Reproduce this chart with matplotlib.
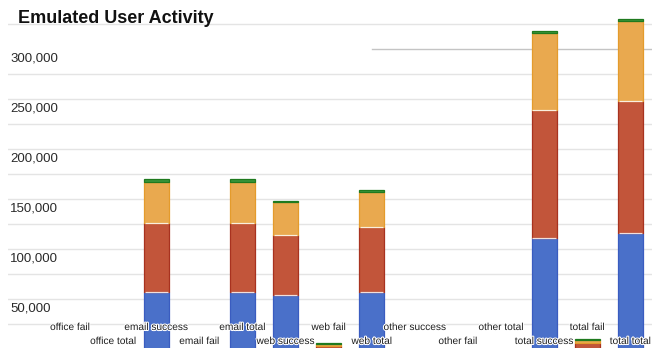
import matplotlib
matplotlib.use("Agg")
import matplotlib.pyplot as plt
import matplotlib.patheffects as pe
import numpy as np

plt.rcParams['font.family'] = ['Liberation Sans', 'DejaVu Sans']

labels = ['office fail', 'office total', 'email success', 'email fail', 'email total',
          'web success', 'web fail', 'web total', 'other success', 'other fail',
          'other total', 'total success', 'total fail', 'total total']
blue = [0, 0, 57000, 0, 57000, 54000, 0, 57000, 0, 0, 0, 111000, 0, 116000]
red = [0, 0, 69000, 0, 69000, 60000, 3500, 65000, 0, 0, 0, 128000, 6000, 132000]
orange = [0, 0, 41000, 0, 41000, 33000, 2000, 35000, 0, 0, 0, 77000, 3000, 80000]
green = [0, 0, 3000, 0, 3000, 1000, 700, 2000, 0, 0, 0, 2000, 1000, 2000]
ytick_vals = [50000, 100000, 150000, 200000, 250000, 300000]
ytick_labels = ['50,000', '100,000', '150,000', '200,000', '250,000', '300,000']
grid_vals = list(range(25000, 325001, 25000))

W, H = 656, 348
fig = plt.figure(figsize=(W / 100, H / 100), dpi=100)
ax = fig.add_axes([8 / W, -1 / H, 644 / W, 335 / H])
x = np.arange(len(labels))
ax.set_xlim((8 - 70) / 43.1, (652 - 70) / 43.1)
ax.set_ylim(0, 335000)
for s in ax.spines.values():
    s.set_visible(False)
ax.set_xticks([])
ax.set_yticks([])

for g in grid_vals:
    if g == 300000:
        ax.axhline(g, xmin=(372 - 8) / 644, color='#c4c4c4', lw=1, zorder=0)
    else:
        ax.axhline(g, color='#e4e4e4', lw=1, zorder=0)

series = [(blue, '#4a70c9', '#3a5cc0'),
          (red, '#c2553a', '#a8321f'),
          (orange, '#e9a94f', '#e49b2c'),
          (green, '#3a943a', '#1f7a1f')]
bottom = np.zeros(len(labels))
prev = np.zeros(len(labels))
bw = 0.58
for k, (vals, fc, ec) in enumerate(series):
    v = np.array(vals, dtype=float)
    ax.bar(x, v, bottom=bottom, width=bw, color=fc, edgecolor=ec, linewidth=0.9, zorder=2)
    if k > 0:
        m = (v >= 10000) & (prev >= 10000)
        ax.hlines(bottom[m], x[m] - bw / 2 + 0.02, x[m] + bw / 2 - 0.02,
                  color='white', lw=0.9, alpha=0.85, zorder=3)
    bottom += v
    prev = v

for val, lab in zip(ytick_vals, ytick_labels):
    ax.text(2 / 644, val - 9500, lab, transform=ax.get_yaxis_transform(),
            ha='left', va='center', fontsize=9.5, color='#2a2a2a', zorder=5)

halo = [pe.withStroke(linewidth=1.5, foreground='white')]
for i, lab in enumerate(labels):
    yv = 22000 if i % 2 == 0 else 8000
    ax.text(i, yv, lab, ha='center', va='center', fontsize=7.3, color='#1e1e1e',
            zorder=6, path_effects=halo)

fig.text(18 / W, 1 - 18.5 / H, 'Emulated User Activity', fontsize=13, fontweight='bold',
         color='#111111', ha='left', va='center')

fig.savefig('out.png', dpi=100, facecolor='white')
